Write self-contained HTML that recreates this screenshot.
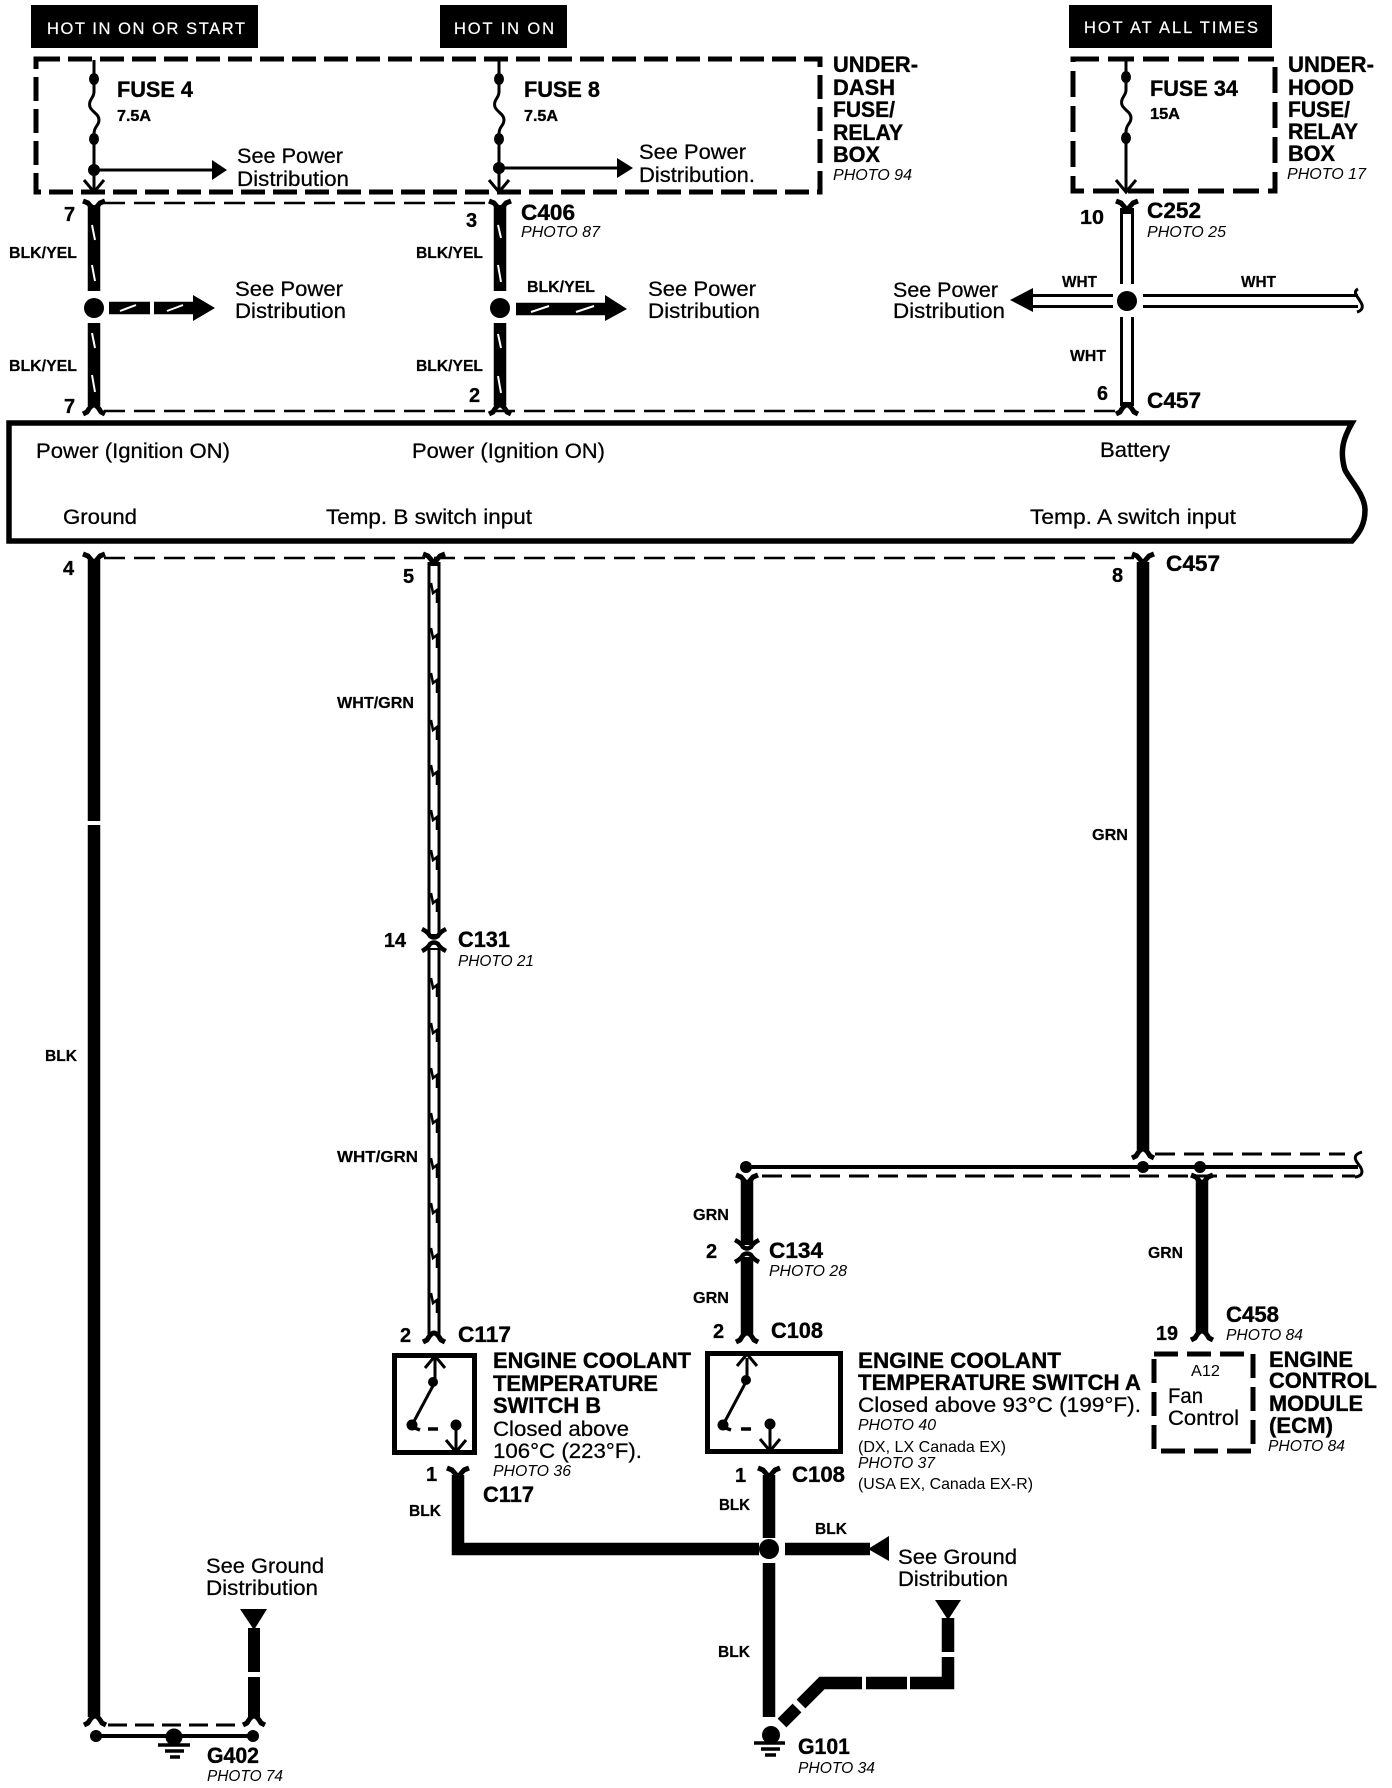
<!DOCTYPE html>
<html><head><meta charset="utf-8"><style>
html,body{margin:0;padding:0;background:#fff}
svg{display:block}
text{font-family:"Liberation Sans",sans-serif;fill:#000}
.b{font-weight:bold;stroke:#000;stroke-width:.35}
.r{stroke:#000;stroke-width:.25;font-size:21px}
.i{font-style:italic;font-size:16px}
.l{font-weight:bold;font-size:15.5px;stroke:#000;stroke-width:.2}
.t{font-size:22px}
.w{fill:#fff;font-size:16.5px;stroke:#fff;stroke-width:.2}
.n{font-weight:bold;font-size:20px;stroke:#000;stroke-width:.3}
.f{fill:none;stroke:#000}
</style></head><body>
<svg width="1392" height="1788" viewBox="0 0 1392 1788" xmlns="http://www.w3.org/2000/svg">
<defs>
<path id="yt" d="M-11,-7 L-6,-5 L0,2 L6,-5 L11,-7" fill="none" stroke="#000" stroke-width="5" stroke-linejoin="round"/>
<path id="yb" d="M-11,6 L-7,4 Q-3,-3 0,-3 Q3,-3 7,4 L11,6" fill="none" stroke="#000" stroke-width="5" stroke-linejoin="round"/>
<path id="ut" d="M-12,-6 Q-6,-3 -4,1 Q0,4 4,1 Q6,-3 12,-6" fill="none" stroke="#000" stroke-width="4.5"/>
<path id="ub" d="M-12,6 Q-6,3 -4,-1 Q0,-4 4,-1 Q6,3 12,6" fill="none" stroke="#000" stroke-width="4.5"/>
<path id="ch" d="M-10,-10 L0,2 L10,-10" fill="none" stroke="#000" stroke-width="3"/>
<path id="cu" d="M-10,10 L0,-2 L10,10" fill="none" stroke="#000" stroke-width="3"/>
</defs>
<rect width="1392" height="1788" fill="#fff"/>

<!-- HOT labels -->
<rect x="31" y="5" width="227" height="43"/>
<rect x="440" y="5" width="127" height="43"/>
<rect x="1069" y="5" width="203" height="43"/>
<text class="w" x="47" y="34" textLength="198" lengthAdjust="spacing">HOT IN ON OR START</text>
<text class="w" x="454" y="34" textLength="100" lengthAdjust="spacing">HOT IN ON</text>
<text class="w" x="1084" y="33" textLength="174" lengthAdjust="spacing">HOT AT ALL TIMES</text>

<!-- Fuse boxes -->
<rect x="36" y="59" width="784" height="133" class="f" stroke-width="5" stroke-dasharray="24 8"/>
<rect x="1073" y="59" width="202" height="132" class="f" stroke-width="5" stroke-dasharray="26 9"/>

<!-- fuses -->
<g class="f" stroke-width="3">
<path d="M94,60 V92 C94,98 88,100 90,107 C92,112 99,114 99,120 C99,126 94,126 94,134 V190"/>
<path d="M499,60 V92 C499,98 493,100 495,107 C497,112 504,114 504,120 C504,126 499,126 499,134 V190"/>
<path d="M1126,60 V90 C1126,96 1120,98 1122,105 C1124,110 1131,112 1131,118 C1131,124 1126,124 1126,132 V190"/>
<path d="M94,170 H216 M499,168 H626"/>
</g>
<g>
<ellipse cx="94" cy="79" rx="5" ry="6"/><ellipse cx="94" cy="139" rx="5" ry="6"/><ellipse cx="94" cy="170" rx="6" ry="6"/>
<ellipse cx="499" cy="79" rx="5" ry="6"/><ellipse cx="499" cy="139" rx="5" ry="6"/><ellipse cx="499" cy="168" rx="6" ry="6"/>
<ellipse cx="1126" cy="77" rx="5" ry="6"/><ellipse cx="1126" cy="138" rx="5" ry="6"/>
<polygon points="227,170 212,160 212,180"/><polygon points="633,168 617,158 617,178"/>
</g>
<use href="#ch" x="94" y="190"/><use href="#ch" x="499" y="190"/><use href="#ch" x="1126" y="190"/>

<text class="b t" x="117" y="97" textLength="76" lengthAdjust="spacingAndGlyphs">FUSE 4</text>
<text class="b" font-size="16" x="117" y="121" textLength="34" lengthAdjust="spacingAndGlyphs">7.5A</text>
<text class="b t" x="524" y="97" textLength="76" lengthAdjust="spacingAndGlyphs">FUSE 8</text>
<text class="b" font-size="16" x="524" y="121" textLength="34" lengthAdjust="spacingAndGlyphs">7.5A</text>
<text class="b t" x="1150" y="96" textLength="88" lengthAdjust="spacingAndGlyphs">FUSE 34</text>
<text class="b" font-size="16" x="1150" y="119" textLength="30" lengthAdjust="spacingAndGlyphs">15A</text>

<text class="r" x="237" y="163" textLength="106" lengthAdjust="spacingAndGlyphs">See Power</text>
<text class="r" x="237" y="186" textLength="112" lengthAdjust="spacingAndGlyphs">Distribution</text>
<text class="r" x="639" y="159" textLength="107" lengthAdjust="spacingAndGlyphs">See Power</text>
<text class="r" x="639" y="182" textLength="116" lengthAdjust="spacingAndGlyphs">Distribution.</text>

<g class="b t">
<text x="833" y="72" textLength="85" lengthAdjust="spacingAndGlyphs">UNDER-</text>
<text x="833" y="95" textLength="62" lengthAdjust="spacingAndGlyphs">DASH</text>
<text x="833" y="117" textLength="62" lengthAdjust="spacingAndGlyphs">FUSE/</text>
<text x="833" y="140" textLength="70" lengthAdjust="spacingAndGlyphs">RELAY</text>
<text x="833" y="162" textLength="47" lengthAdjust="spacingAndGlyphs">BOX</text>
<text x="1288" y="72" textLength="86" lengthAdjust="spacingAndGlyphs">UNDER-</text>
<text x="1288" y="95" textLength="66" lengthAdjust="spacingAndGlyphs">HOOD</text>
<text x="1288" y="117" textLength="62" lengthAdjust="spacingAndGlyphs">FUSE/</text>
<text x="1288" y="139" textLength="70" lengthAdjust="spacingAndGlyphs">RELAY</text>
<text x="1288" y="161" textLength="47" lengthAdjust="spacingAndGlyphs">BOX</text>
</g>
<text class="i" x="833" y="180" textLength="79" lengthAdjust="spacingAndGlyphs">PHOTO 94</text>
<text class="i" x="1287" y="179" textLength="79" lengthAdjust="spacingAndGlyphs">PHOTO 17</text>

<!-- dashed connector lines -->
<g class="f" stroke-width="2.5" stroke-dasharray="21 9">
<path d="M104,203 H492"/>
<path d="M104,411 H1115"/>
<path d="M104,558 H1134"/>
</g>

<!-- BLK/YEL left and center -->
<g stroke="#000" stroke-width="12.5" fill="none">
<path d="M94,205 V291 M94,323 V406 M500,205 V291 M500,323 V406"/>
<path d="M109,308 H150 M154,308 H195 M516,309 H607"/>
</g>
<g stroke="#fff" stroke-width="2" fill="none">
<path d="M92,225 L95,240 M92,265 L95,281 M92,333 L95,348 M92,375 L95,392"/>
<path d="M498,225 L501,238 M498,265 L501,282 M498,334 L501,348 M498,376 L501,393"/>
<path d="M120,311 L136,305 M167,311 L183,305 M531,312 L549,306 M576,312 L594,306"/>
</g>
<use href="#yt" x="94" y="208"/><use href="#yt" x="500" y="208"/>
<use href="#yb" x="94" y="408"/><use href="#yb" x="500" y="408"/>
<ellipse cx="94" cy="308" rx="10" ry="10"/><ellipse cx="500" cy="308" rx="10" ry="10"/>
<polygon points="215,308 193,295 193,321"/><polygon points="627,309 605,295 605,321"/>

<text class="l" x="9" y="258" textLength="68" lengthAdjust="spacingAndGlyphs">BLK/YEL</text>
<text class="l" x="9" y="371" textLength="68" lengthAdjust="spacingAndGlyphs">BLK/YEL</text>
<text class="l" x="416" y="258" textLength="67" lengthAdjust="spacingAndGlyphs">BLK/YEL</text>
<text class="l" x="416" y="371" textLength="67" lengthAdjust="spacingAndGlyphs">BLK/YEL</text>
<text class="l" x="527" y="292" textLength="68" lengthAdjust="spacingAndGlyphs">BLK/YEL</text>

<text class="n" x="64" y="221">7</text>
<text class="n" x="64" y="413">7</text>
<text class="n" x="466" y="227" textLength="12">3</text>
<text class="n" x="469" y="402" textLength="12">2</text>
<text class="b t" x="521" y="220" textLength="54" lengthAdjust="spacingAndGlyphs">C406</text>
<text class="i" x="521" y="237" textLength="79" lengthAdjust="spacingAndGlyphs">PHOTO 87</text>

<text class="r" x="235" y="296" textLength="108" lengthAdjust="spacingAndGlyphs">See Power</text>
<text class="r" x="235" y="318" textLength="111" lengthAdjust="spacingAndGlyphs">Distribution</text>
<text class="r" x="648" y="296" textLength="108" lengthAdjust="spacingAndGlyphs">See Power</text>
<text class="r" x="648" y="318" textLength="112" lengthAdjust="spacingAndGlyphs">Distribution</text>

<!-- WHT cross -->
<g stroke="#000" stroke-width="14" fill="none">
<path d="M1127,208 V284 M1127,317 V406 M1033,301 H1113 M1143,301 H1358"/>
</g>
<g stroke="#fff" stroke-width="8" fill="none">
<path d="M1127,214 V288 M1127,313 V402 M1030,301 H1117 M1139,301 H1358"/>
</g>
<use href="#yt" x="1127" y="208"/><use href="#yb" x="1127" y="408"/>
<ellipse cx="1127" cy="301" rx="10" ry="10"/>
<polygon points="1010,300 1033,288 1033,312"/>
<path d="M1358,289 C1352,292 1358,297 1360,301 C1363,305 1364,310 1357,312" class="f" stroke-width="3"/>
<text class="l" x="1062" y="287" textLength="35" lengthAdjust="spacingAndGlyphs">WHT</text>
<text class="l" x="1241" y="287" textLength="35" lengthAdjust="spacingAndGlyphs">WHT</text>
<text class="l" x="1070" y="361" textLength="36" lengthAdjust="spacingAndGlyphs">WHT</text>
<text class="n" x="1080" y="224" textLength="24" lengthAdjust="spacingAndGlyphs">10</text>
<text class="n" x="1097" y="400" textLength="11" lengthAdjust="spacingAndGlyphs">6</text>
<text class="b t" x="1147" y="218" textLength="54" lengthAdjust="spacingAndGlyphs">C252</text>
<text class="i" x="1147" y="237" textLength="79" lengthAdjust="spacingAndGlyphs">PHOTO 25</text>
<text class="b t" x="1147" y="408" textLength="54" lengthAdjust="spacingAndGlyphs">C457</text>
<text class="r" x="893" y="297" textLength="105" lengthAdjust="spacingAndGlyphs">See Power</text>
<text class="r" x="893" y="318" textLength="112" lengthAdjust="spacingAndGlyphs">Distribution</text>

<!-- Main component box -->
<path d="M9,423 H1352 C1344,437 1339,450 1345,470 C1350,480 1365,495 1365,510 C1365,525 1359,533 1352,541 H9 Z" fill="none" stroke="#000" stroke-width="5.5" stroke-linejoin="miter"/>
<text class="r" x="36" y="458" textLength="194" lengthAdjust="spacingAndGlyphs">Power (Ignition ON)</text>
<text class="r" x="412" y="458" textLength="193" lengthAdjust="spacingAndGlyphs">Power (Ignition ON)</text>
<text class="r" x="1100" y="457" textLength="70" lengthAdjust="spacingAndGlyphs">Battery</text>
<text class="r" x="63" y="524" textLength="74" lengthAdjust="spacingAndGlyphs">Ground</text>
<text class="r" x="326" y="524" textLength="206" lengthAdjust="spacingAndGlyphs">Temp. B switch input</text>
<text class="r" x="1030" y="524" textLength="206" lengthAdjust="spacingAndGlyphs">Temp. A switch input</text>

<!-- Lower wires -->
<use href="#yt" x="94" y="561"/><use href="#yt" x="434" y="561"/><use href="#yt" x="1143" y="561"/>
<text class="n" x="63" y="575" textLength="12">4</text>
<text class="n" x="403" y="583" textLength="11">5</text>
<text class="n" x="1112" y="582" textLength="12">8</text>
<text class="b t" x="1166" y="571" textLength="54" lengthAdjust="spacingAndGlyphs">C457</text>

<!-- BLK ground wire -->
<path d="M94,560 V821 M94,825 V1717" stroke="#000" stroke-width="12.5" fill="none"/>
<text class="l" x="45" y="1061" textLength="32" lengthAdjust="spacingAndGlyphs">BLK</text>

<!-- WHT/GRN wire -->
<path d="M434,562 V936 M434,948 V1335" stroke="#000" stroke-width="13" fill="none"/>
<path d="M434,566 V934 M434,950 V1333" stroke="#fff" stroke-width="7" fill="none"/>
<g class="f" stroke-width="2.5">
<path d="M431,583 L433,593 L437,590 L437,603"/>
<path d="M431,628 L433,638 L437,635 L437,648"/>
<path d="M431,673 L433,683 L437,680 L437,693"/>
<path d="M431,720 L433,730 L437,727 L437,740"/>
<path d="M431,765 L433,775 L437,772 L437,785"/>
<path d="M431,810 L433,820 L437,817 L437,830"/>
<path d="M431,850 L433,860 L437,857 L437,870"/>
<path d="M431,893 L433,903 L437,900 L437,912"/>
<path d="M431,978 L433,988 L437,985 L437,997"/>
<path d="M431,1023 L433,1033 L437,1030 L437,1042"/>
<path d="M431,1068 L433,1078 L437,1075 L437,1088"/>
<path d="M431,1113 L433,1123 L437,1120 L437,1133"/>
<path d="M431,1158 L433,1168 L437,1165 L437,1178"/>
<path d="M431,1203 L433,1213 L437,1210 L437,1223"/>
<path d="M431,1248 L433,1258 L437,1255 L437,1268"/>
<path d="M431,1293 L433,1303 L437,1300 L437,1313"/>
</g>
<use href="#ut" x="434" y="935"/><use href="#ub" x="434" y="945"/>
<text class="l" x="337" y="708" textLength="77" lengthAdjust="spacingAndGlyphs">WHT/GRN</text>
<text class="l" x="337" y="1162" textLength="81" lengthAdjust="spacingAndGlyphs">WHT/GRN</text>
<text class="n" x="384" y="947" textLength="22" lengthAdjust="spacingAndGlyphs">14</text>
<text class="b t" x="458" y="947" textLength="52" lengthAdjust="spacingAndGlyphs">C131</text>
<text class="i" x="458" y="966" textLength="76" lengthAdjust="spacingAndGlyphs">PHOTO 21</text>
<use href="#yb" x="434" y="1336"/>
<text class="n" x="400" y="1342" textLength="11">2</text>
<text class="b t" x="458" y="1342" textLength="53" lengthAdjust="spacingAndGlyphs">C117</text>

<!-- GRN wires -->
<path d="M1143,562 V1150 M1202,1180 V1333 M747,1180 V1245 M747,1257 V1335" stroke="#000" stroke-width="12.5" fill="none"/>
<text class="l" x="1092" y="840" textLength="36" lengthAdjust="spacingAndGlyphs">GRN</text>

<!-- bus -->
<path d="M746,1167 H1358" class="f" stroke-width="4"/>
<path d="M762,1176 H1355" class="f" stroke-width="3" stroke-dasharray="20 9"/>
<path d="M1155,1154 H1345" class="f" stroke-width="3" stroke-dasharray="20 9"/>
<circle cx="746" cy="1167" r="6"/><circle cx="1143" cy="1167" r="6"/><circle cx="1200" cy="1167" r="6"/>
<path d="M1362,1152 C1352,1155 1355,1160 1359,1165 C1363,1170 1364,1176 1355,1177" class="f" stroke-width="3"/>
<use href="#yb" x="1143" y="1152"/><use href="#yt" x="1202" y="1182"/><use href="#yt" x="747" y="1182"/>
<use href="#ut" x="747" y="1246"/><use href="#ub" x="747" y="1256"/><use href="#yb" x="747" y="1336"/><use href="#yb" x="1202" y="1334"/>

<text class="l" x="693" y="1220" textLength="36" lengthAdjust="spacingAndGlyphs">GRN</text>
<text class="l" x="693" y="1303" textLength="36" lengthAdjust="spacingAndGlyphs">GRN</text>
<text class="l" x="1148" y="1258" textLength="35" lengthAdjust="spacingAndGlyphs">GRN</text>
<text class="n" x="706" y="1258" textLength="11">2</text>
<text class="n" x="713" y="1338" textLength="11">2</text>
<text class="b t" x="769" y="1258" textLength="54" lengthAdjust="spacingAndGlyphs">C134</text>
<text class="i" x="769" y="1276" textLength="78" lengthAdjust="spacingAndGlyphs">PHOTO 28</text>
<text class="b t" x="771" y="1338" textLength="52" lengthAdjust="spacingAndGlyphs">C108</text>
<text class="n" x="1156" y="1340" textLength="22" lengthAdjust="spacingAndGlyphs">19</text>
<text class="b t" x="1226" y="1322" textLength="53" lengthAdjust="spacingAndGlyphs">C458</text>
<text class="i" x="1226" y="1340" textLength="77" lengthAdjust="spacingAndGlyphs">PHOTO 84</text>

<!-- Switch boxes -->
<rect x="394.5" y="1355.5" width="80" height="97" class="f" stroke-width="5"/>
<rect x="707.5" y="1353.5" width="133" height="98" class="f" stroke-width="5"/>
<g class="f" stroke-width="3">
<path d="M435,1358 V1382 L412,1425 M456,1425 V1452"/>
<path d="M747,1358 V1380 L723,1425 M770,1424 V1452"/>
</g>
<g class="f" stroke-width="3.5">
<path d="M412,1427 L420,1430 M428,1429 H438"/>
<path d="M723,1427 L731,1430 M741,1429 H751"/>
</g>
<use href="#cu" x="435" y="1358"/><use href="#ch" x="456" y="1450"/>
<use href="#cu" x="747" y="1356"/><use href="#ch" x="770" y="1449"/>
<circle cx="433" cy="1382" r="5"/><circle cx="412" cy="1425" r="5.5"/><circle cx="456" cy="1425" r="5.5"/>
<circle cx="746" cy="1380" r="5"/><circle cx="723" cy="1425" r="5.5"/><circle cx="770" cy="1424" r="5.5"/>

<g class="b t">
<text x="493" y="1368" textLength="198" lengthAdjust="spacingAndGlyphs">ENGINE COOLANT</text>
<text x="493" y="1391" textLength="165" lengthAdjust="spacingAndGlyphs">TEMPERATURE</text>
<text x="493" y="1413" textLength="108" lengthAdjust="spacingAndGlyphs">SWITCH B</text>
<text x="858" y="1368" textLength="203" lengthAdjust="spacingAndGlyphs">ENGINE COOLANT</text>
<text x="858" y="1390" textLength="283" lengthAdjust="spacingAndGlyphs">TEMPERATURE SWITCH A</text>
<text x="1269" y="1367" textLength="84" lengthAdjust="spacingAndGlyphs">ENGINE</text>
<text x="1269" y="1388" textLength="108" lengthAdjust="spacingAndGlyphs">CONTROL</text>
<text x="1269" y="1411" textLength="94" lengthAdjust="spacingAndGlyphs">MODULE</text>
<text x="1269" y="1433" textLength="64" lengthAdjust="spacingAndGlyphs">(ECM)</text>
</g>
<text class="r" x="493" y="1436" textLength="136" lengthAdjust="spacingAndGlyphs">Closed above</text>
<text class="r" x="493" y="1458" textLength="149" lengthAdjust="spacingAndGlyphs">106°C (223°F).</text>
<text class="i" x="493" y="1476" textLength="78" lengthAdjust="spacingAndGlyphs">PHOTO 36</text>
<text class="r" x="858" y="1412" textLength="283" lengthAdjust="spacingAndGlyphs">Closed above 93°C (199°F).</text>
<text class="i" x="858" y="1430" textLength="78" lengthAdjust="spacingAndGlyphs">PHOTO 40</text>
<text x="858" y="1452" font-size="16" textLength="148" lengthAdjust="spacingAndGlyphs">(DX, LX Canada EX)</text>
<text class="i" x="858" y="1468" textLength="77" lengthAdjust="spacingAndGlyphs">PHOTO 37</text>
<text x="858" y="1489" font-size="16" textLength="175" lengthAdjust="spacingAndGlyphs">(USA EX, Canada EX-R)</text>
<text class="i" x="1268" y="1451" textLength="77" lengthAdjust="spacingAndGlyphs">PHOTO 84</text>

<!-- ECM -->
<rect x="1154" y="1354" width="99" height="97" class="f" stroke-width="5" stroke-dasharray="24 9"/>
<text x="1191" y="1376" font-size="16" textLength="29" lengthAdjust="spacingAndGlyphs">A12</text>
<text class="r" x="1168" y="1403" textLength="35" lengthAdjust="spacingAndGlyphs">Fan</text>
<text class="r" x="1168" y="1425" textLength="71" lengthAdjust="spacingAndGlyphs">Control</text>

<!-- BLK bottom -->
<use href="#yt" x="458" y="1475"/><use href="#yt" x="769" y="1475"/>
<path d="M458,1475 V1549 H759 M769,1475 V1538 M769,1563 V1717 M785,1549 H870" stroke="#000" stroke-width="12.5" fill="none"/>
<circle cx="769" cy="1549" r="10"/>
<polygon points="868,1549 889,1536 889,1561"/>
<text class="n" x="426" y="1481" textLength="9">1</text>
<text class="n" x="735" y="1482" textLength="9">1</text>
<text class="b t" x="483" y="1502" textLength="51" lengthAdjust="spacingAndGlyphs">C117</text>
<text class="b t" x="792" y="1482" textLength="53" lengthAdjust="spacingAndGlyphs">C108</text>
<text class="l" x="409" y="1516" textLength="32" lengthAdjust="spacingAndGlyphs">BLK</text>
<text class="l" x="719" y="1510" textLength="31" lengthAdjust="spacingAndGlyphs">BLK</text>
<text class="l" x="815" y="1534" textLength="32" lengthAdjust="spacingAndGlyphs">BLK</text>
<text class="l" x="718" y="1657" textLength="32" lengthAdjust="spacingAndGlyphs">BLK</text>
<text class="r" x="898" y="1564" textLength="119" lengthAdjust="spacingAndGlyphs">See Ground</text>
<text class="r" x="898" y="1586" textLength="110" lengthAdjust="spacingAndGlyphs">Distribution</text>

<!-- right grounded return -->
<polygon points="935,1600 961,1600 948,1620"/>
<path d="M948,1618 V1652 M948,1657 V1683 H910 M907,1683 H866 M862,1683 H822 L801,1704 M797,1708 L782,1723" stroke="#000" stroke-width="12.5" fill="none"/>

<!-- G101 -->
<circle cx="771" cy="1735" r="9"/>
<path d="M754,1743 H785 M761,1749 H780 M765,1755 H776" class="f" stroke-width="3.5"/>
<text class="b t" x="798" y="1754" textLength="52" lengthAdjust="spacingAndGlyphs">G101</text>
<text class="i" x="798" y="1773" textLength="77" lengthAdjust="spacingAndGlyphs">PHOTO 34</text>

<!-- left ground return -->
<text class="r" x="206" y="1573" textLength="118" lengthAdjust="spacingAndGlyphs">See Ground</text>
<text class="r" x="206" y="1595" textLength="112" lengthAdjust="spacingAndGlyphs">Distribution</text>
<polygon points="240,1609 267,1609 254,1630"/>
<path d="M254,1628 V1672 M254,1677 V1717" stroke="#000" stroke-width="12" fill="none"/>
<use href="#yb" x="95" y="1719"/><use href="#yb" x="254" y="1719"/>
<path d="M108,1725 H242" class="f" stroke-width="3" stroke-dasharray="19 8"/>
<path d="M96,1736 H253" class="f" stroke-width="4"/>
<circle cx="96" cy="1736" r="6"/><circle cx="253" cy="1736" r="6"/>
<circle cx="174" cy="1737" r="8.5"/>
<path d="M158,1745 H190 M165,1751 H184 M170,1757 H180" class="f" stroke-width="3.5"/>
<text class="b t" x="207" y="1763" textLength="52" lengthAdjust="spacingAndGlyphs">G402</text>
<text class="i" x="207" y="1781" textLength="76" lengthAdjust="spacingAndGlyphs">PHOTO 74</text>
</svg>
</body></html>
